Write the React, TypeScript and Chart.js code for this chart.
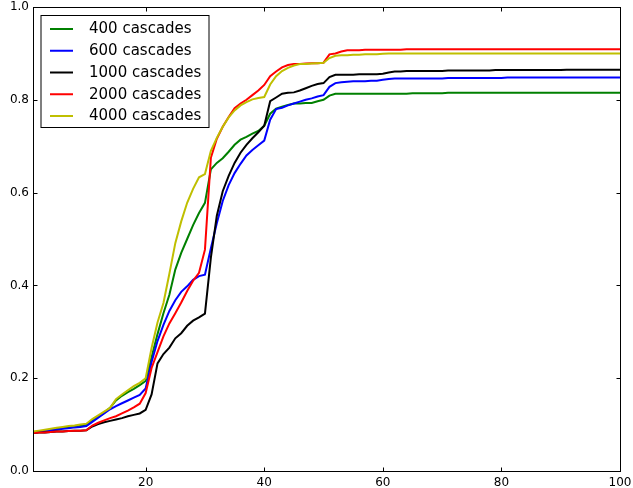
import React, { useEffect, useRef } from "react";
import { Chart, registerables } from "chart.js";

Chart.register(...registerables);

const steps = Array.from({ length: 100 }, (_, i) => i + 1);

const seriesLabels = ["400 cascades", "600 cascades", "1000 cascades", "2000 cascades", "4000 cascades"];
const seriesColors = ["#008000", "#0000ff", "#000000", "#ff0000", "#bfbf00"];

const c400 = [
  0.083, 0.085, 0.087, 0.089, 0.091, 0.092, 0.094, 0.095, 0.097, 0.099,
  0.108, 0.117, 0.126, 0.136, 0.152, 0.162, 0.170, 0.177, 0.185, 0.194,
  0.245, 0.295, 0.340, 0.380, 0.434, 0.470, 0.500, 0.530, 0.556, 0.578,
  0.650, 0.664, 0.674, 0.688, 0.703, 0.714, 0.720, 0.727, 0.733, 0.744,
  0.770, 0.781, 0.785, 0.789, 0.792, 0.792, 0.793, 0.793, 0.797, 0.800,
  0.809, 0.813, 0.813, 0.813, 0.813, 0.813, 0.813, 0.813, 0.813, 0.813,
  0.813, 0.813, 0.813, 0.813, 0.814, 0.814, 0.814, 0.814, 0.814, 0.814,
  0.815, 0.815, 0.815, 0.815, 0.815, 0.815, 0.815, 0.815, 0.815, 0.815,
  0.815, 0.815, 0.815, 0.815, 0.815, 0.815, 0.815, 0.815, 0.815, 0.815,
  0.815, 0.815, 0.815, 0.815, 0.815, 0.815, 0.815, 0.815, 0.815, 0.815,
];

const c600 = [
  0.082, 0.084, 0.086, 0.088, 0.089, 0.091, 0.092, 0.094, 0.095, 0.097,
  0.106, 0.115, 0.124, 0.133, 0.140, 0.146, 0.152, 0.158, 0.164, 0.178,
  0.235, 0.280, 0.315, 0.345, 0.368, 0.386, 0.398, 0.412, 0.420, 0.423,
  0.480, 0.534, 0.582, 0.616, 0.642, 0.662, 0.680, 0.692, 0.702, 0.712,
  0.757, 0.780, 0.783, 0.788, 0.792, 0.796, 0.800, 0.803, 0.807, 0.810,
  0.828, 0.836, 0.838, 0.839, 0.840, 0.840, 0.840, 0.841, 0.841, 0.843,
  0.845, 0.846, 0.846, 0.846, 0.846, 0.846, 0.846, 0.846, 0.846, 0.846,
  0.847, 0.847, 0.847, 0.847, 0.847, 0.847, 0.847, 0.847, 0.847, 0.847,
  0.848, 0.848, 0.848, 0.848, 0.848, 0.848, 0.848, 0.848, 0.848, 0.848,
  0.848, 0.848, 0.848, 0.848, 0.848, 0.848, 0.848, 0.848, 0.848, 0.848,
];

const c1000 = [
  0.082, 0.083, 0.083, 0.084, 0.085, 0.085, 0.086, 0.087, 0.087, 0.088,
  0.096, 0.101, 0.105, 0.108, 0.111, 0.114, 0.118, 0.121, 0.124, 0.132,
  0.165, 0.232, 0.252, 0.266, 0.286, 0.297, 0.313, 0.324, 0.331, 0.339,
  0.460, 0.550, 0.603, 0.636, 0.664, 0.686, 0.703, 0.717, 0.730, 0.744,
  0.797, 0.805, 0.813, 0.815, 0.816, 0.820, 0.825, 0.830, 0.834, 0.836,
  0.849, 0.854, 0.854, 0.854, 0.854, 0.855, 0.855, 0.855, 0.855, 0.856,
  0.859, 0.861, 0.861, 0.862, 0.862, 0.862, 0.862, 0.862, 0.862, 0.862,
  0.863, 0.863, 0.863, 0.863, 0.863, 0.863, 0.863, 0.863, 0.864, 0.864,
  0.864, 0.864, 0.864, 0.864, 0.864, 0.864, 0.864, 0.864, 0.864, 0.864,
  0.865, 0.865, 0.865, 0.865, 0.865, 0.865, 0.865, 0.865, 0.865, 0.865,
];

const c2000 = [
  0.082, 0.083, 0.083, 0.084, 0.085, 0.085, 0.086, 0.087, 0.087, 0.088,
  0.098, 0.104, 0.109, 0.114, 0.118, 0.124, 0.130, 0.137, 0.145, 0.168,
  0.222, 0.256, 0.290, 0.318, 0.340, 0.363, 0.388, 0.410, 0.427, 0.477,
  0.675, 0.716, 0.742, 0.763, 0.782, 0.792, 0.800, 0.810, 0.820, 0.832,
  0.851, 0.861, 0.870, 0.875, 0.877, 0.877, 0.878, 0.879, 0.879, 0.880,
  0.898, 0.900, 0.904, 0.907, 0.907, 0.907, 0.908, 0.908, 0.908, 0.908,
  0.908, 0.908, 0.908, 0.909, 0.909, 0.909, 0.909, 0.909, 0.909, 0.909,
  0.909, 0.909, 0.909, 0.909, 0.909, 0.909, 0.909, 0.909, 0.909, 0.909,
  0.909, 0.909, 0.909, 0.909, 0.909, 0.909, 0.909, 0.909, 0.909, 0.909,
  0.909, 0.909, 0.909, 0.909, 0.909, 0.909, 0.909, 0.909, 0.909, 0.909,
];

const c4000 = [
  0.085, 0.087, 0.089, 0.091, 0.093, 0.095, 0.097, 0.098, 0.100, 0.102,
  0.112, 0.120, 0.128, 0.136, 0.155, 0.165, 0.174, 0.183, 0.190, 0.200,
  0.265, 0.320, 0.362, 0.425, 0.491, 0.538, 0.578, 0.608, 0.633, 0.640,
  0.690, 0.718, 0.742, 0.762, 0.777, 0.788, 0.795, 0.801, 0.804, 0.806,
  0.833, 0.851, 0.862, 0.869, 0.874, 0.877, 0.877, 0.878, 0.879, 0.880,
  0.890, 0.895, 0.896, 0.896, 0.897, 0.897, 0.898, 0.898, 0.898, 0.899,
  0.900, 0.900, 0.900, 0.900, 0.900, 0.900, 0.900, 0.900, 0.900, 0.900,
  0.900, 0.900, 0.900, 0.900, 0.900, 0.900, 0.900, 0.900, 0.900, 0.900,
  0.900, 0.900, 0.900, 0.900, 0.900, 0.900, 0.900, 0.900, 0.900, 0.900,
  0.900, 0.900, 0.900, 0.900, 0.900, 0.900, 0.900, 0.900, 0.900, 0.900,
];

const seriesValues = [c400, c600, c1000, c2000, c4000];

const xTicks = [20, 40, 60, 80, 100];
const yTicks = [0.0, 0.2, 0.4, 0.6, 0.8, 1.0];

const FONT = '"DejaVu Sans", sans-serif';

const framePlugin = {
  id: "frameLegend",
  afterDraw(chart: any) {
    const { ctx, chartArea, scales } = chart;
    const L = Math.round(chartArea.left) + 0.5;
    const R = Math.round(chartArea.right) + 0.5;
    const T = Math.round(chartArea.top) + 0.5;
    const B = Math.round(chartArea.bottom) + 0.5;
    ctx.save();
    ctx.strokeStyle = "#000";
    ctx.lineWidth = 1;
    ctx.strokeRect(L, T, R - L, B - T);
    // inward ticks
    ctx.beginPath();
    xTicks.forEach((v) => {
      const px = Math.round(scales.x.getPixelForValue(v)) + 0.5;
      ctx.moveTo(px, B);
      ctx.lineTo(px, B - 4);
      ctx.moveTo(px, T);
      ctx.lineTo(px, T + 4);
    });
    yTicks.forEach((v) => {
      const py = Math.round(scales.y.getPixelForValue(v)) + 0.5;
      ctx.moveTo(L, py);
      ctx.lineTo(L + 4, py);
      ctx.moveTo(R, py);
      ctx.lineTo(R - 4, py);
    });
    ctx.stroke();

    // legend
    const bx = L + 7.5;
    const by = T + 8;
    const bw = 168;
    const bh = 112;
    ctx.fillStyle = "#fff";
    ctx.fillRect(bx, by, bw, bh);
    ctx.strokeStyle = "#000";
    ctx.lineWidth = 1;
    ctx.strokeRect(bx, by, bw, bh);
    ctx.font = `15px ${FONT}`;
    ctx.textBaseline = "middle";
    ctx.textAlign = "left";
    chart.data.datasets.forEach((ds: any, i: number) => {
      const ry = by + 13.5 + i * 21.75;
      ctx.strokeStyle = ds.borderColor;
      ctx.lineWidth = 2;
      ctx.beginPath();
      ctx.moveTo(bx + 9, ry);
      ctx.lineTo(bx + 32, ry);
      ctx.stroke();
      ctx.fillStyle = "#000";
      ctx.fillText(ds.label, bx + 48, ry + 0.5);
    });
    ctx.restore();
  },
};

export default function App() {
  const ref = useRef<HTMLCanvasElement | null>(null);

  useEffect(() => {
    if (!ref.current) return;
    const chart = new Chart(ref.current, {
      type: "line",
      data: {
        datasets: seriesValues.map((vals, i) => ({
          label: seriesLabels[i],
          data: vals.map((v, j) => ({ x: steps[j], y: v })),
          borderColor: seriesColors[i],
          backgroundColor: seriesColors[i],
          borderWidth: 2,
          pointRadius: 0,
          tension: 0,
          fill: false,
          order: seriesValues.length - i,
        })),
      },
      options: {
        animation: false,
        responsive: false,
        devicePixelRatio: 1,
        layout: { padding: { top: 7, right: 13, left: 0, bottom: 0 } },
        plugins: {
          legend: { display: false },
          tooltip: { enabled: false },
        },
        scales: {
          x: {
            type: "linear",
            min: 1,
            max: 100,
            grid: { display: false, drawTicks: false },
            border: { display: false },
            ticks: {
              color: "#000",
              font: { family: FONT, size: 12 },
              padding: 5,
              maxRotation: 0,
              autoSkip: false,
              callback: (v: any) => String(v),
            },
            afterBuildTicks: (s: any) => {
              s.ticks = xTicks.map((v) => ({ value: v }));
            },
            afterFit: (s: any) => {
              s.height = 17;
              s.paddingLeft = 0;
              s.paddingRight = 0;
            },
          },
          y: {
            type: "linear",
            min: 0,
            max: 1,
            grid: { display: false, drawTicks: false },
            border: { display: false },
            ticks: {
              color: "#000",
              font: { family: FONT, size: 12 },
              padding: 4,
              autoSkip: false,
              callback: (v: any) => Number(v).toFixed(1),
            },
            afterBuildTicks: (s: any) => {
              s.ticks = yTicks.map((v) => ({ value: v }));
            },
            afterFit: (s: any) => {
              s.width = 33;
              s.paddingTop = 0;
              s.paddingBottom = 0;
            },
          },
        },
      },
      plugins: [framePlugin],
    });
    return () => chart.destroy();
  }, []);

  return (
    <div style={{ position: "absolute", left: 0, top: 0, width: 633, height: 488, background: "#fff" }}>
      <canvas ref={ref} width={633} height={488} style={{ display: "block" }} />
    </div>
  );
}
